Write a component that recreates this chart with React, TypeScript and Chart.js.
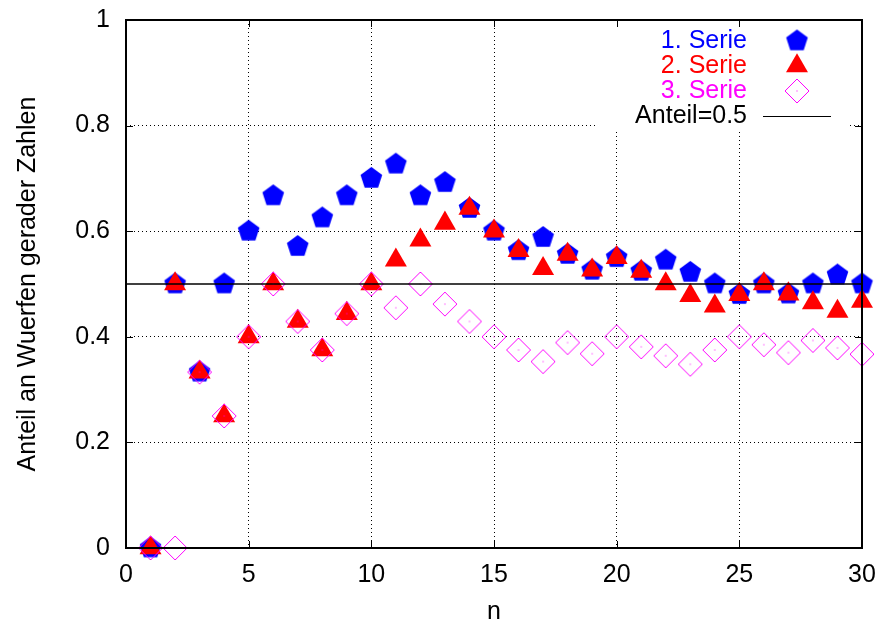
import { useEffect, useRef } from "react";
import { Chart, registerables } from "chart.js";

Chart.register(...registerables);

// ---- data ----
const nValues = [1, 2, 3, 4, 5, 6, 7, 8, 9, 10, 11, 12, 13, 14, 15, 16, 17, 18, 19, 20, 21, 22, 23, 24, 25, 26, 27, 28, 29, 30];
const series1 = [0, 0.5, 0.333, 0.5, 0.6, 0.667, 0.571, 0.625, 0.667, 0.7, 0.727, 0.667, 0.692, 0.643, 0.6, 0.563, 0.588, 0.556, 0.526, 0.55, 0.524, 0.545, 0.522, 0.5, 0.48, 0.5, 0.481, 0.5, 0.517, 0.5];
const series2 = [0, 0.5, 0.333, 0.25, 0.4, 0.5, 0.429, 0.375, 0.444, 0.5, 0.545, 0.583, 0.615, 0.643, 0.6, 0.563, 0.529, 0.556, 0.526, 0.55, 0.524, 0.5, 0.478, 0.458, 0.48, 0.5, 0.481, 0.464, 0.448, 0.467];
const series3 = [0, 0, 0.333, 0.25, 0.4, 0.5, 0.429, 0.375, 0.444, 0.5, 0.455, 0.5, 0.462, 0.429, 0.4, 0.375, 0.353, 0.389, 0.368, 0.4, 0.381, 0.364, 0.348, 0.375, 0.4, 0.385, 0.37, 0.393, 0.379, 0.367];
const referenceValue = 0.5;
const referenceSpan = [0, 30];
const seriesNames = ["1. Serie", "2. Serie", "3. Serie", "Anteil=0.5"];
const xTickLabels = ["0", "5", "10", "15", "20", "25", "30"];
const yTickLabels = ["0", "0.2", "0.4", "0.6", "0.8", "1"];
const xTickValues = [0, 5, 10, 15, 20, 25, 30];
const yTickValues = [0, 0.2, 0.4, 0.6, 0.8, 1];
const xTitle = "n";
const yTitle = "Anteil an Wuerfen gerader Zahlen";

// ---- styles ----
const BLUE = "#0000ff";
const RED = "#ff0000";
const MAGENTA = "#ff00ff";
const FONT_FAMILY = '"Liberation Sans", Arial, Helvetica, sans-serif';
const FONT_SIZE = 25;
const PENT_R = 11.4;
const TRI_R = 12.7;
const DIA_R = 12;

function makePentagon(R: number, color: string): HTMLCanvasElement {
  const size = Math.ceil(2 * R) + 2;
  const c = document.createElement("canvas");
  c.width = size;
  c.height = size;
  const ctx = c.getContext("2d")!;
  const cx = size / 2;
  const cy = size / 2;
  ctx.beginPath();
  for (let k = 0; k < 5; k++) {
    const a = -Math.PI / 2 + (k * 2 * Math.PI) / 5;
    const px = cx + R * Math.cos(a);
    const py = cy + R * Math.sin(a);
    if (k === 0) ctx.moveTo(px, py);
    else ctx.lineTo(px, py);
  }
  ctx.closePath();
  ctx.fillStyle = color;
  ctx.fill();
  return c;
}

function makeDiamond(R: number, color: string): HTMLCanvasElement {
  const size = Math.ceil(2 * R) + 2;
  const c = document.createElement("canvas");
  c.width = size;
  c.height = size;
  const ctx = c.getContext("2d")!;
  const cx = size / 2;
  const cy = size / 2;
  ctx.beginPath();
  ctx.moveTo(cx, cy - R);
  ctx.lineTo(cx + R, cy);
  ctx.lineTo(cx, cy + R);
  ctx.lineTo(cx - R, cy);
  ctx.closePath();
  ctx.strokeStyle = color;
  ctx.lineWidth = 1;
  ctx.stroke();
  ctx.fillStyle = color;
  ctx.fillRect(cx - 0.5, cy - 0.5, 1, 1);
  return c;
}

function drawTriangle(ctx: CanvasRenderingContext2D, x: number, y: number, r: number, color: string) {
  ctx.beginPath();
  for (let k = 0; k < 3; k++) {
    const a = (k * 2 * Math.PI) / 3;
    const px = x + Math.sin(a) * r;
    const py = y - Math.cos(a) * r;
    if (k === 0) ctx.moveTo(px, py);
    else ctx.lineTo(px, py);
  }
  ctx.closePath();
  ctx.fillStyle = color;
  ctx.fill();
}

export default function App() {
  const canvasRef = useRef<HTMLCanvasElement | null>(null);

  useEffect(() => {
    const canvas = canvasRef.current;
    if (!canvas) return;
    const pentagon = makePentagon(PENT_R, BLUE);
    const diamond = makeDiamond(DIA_R, MAGENTA);

    const framePlugin = {
      id: "gnuplotFrame",
      beforeDatasetsDraw(chart: any) {
        const { ctx, chartArea } = chart;
        const { top, right } = chartArea;
        ctx.save();
        // key box (opaque)
        ctx.fillStyle = "#ffffff";
        ctx.fillRect(right - 265, top + 1, 250, 108);
        ctx.font = `${FONT_SIZE}px ${FONT_FAMILY}`;
        ctx.textAlign = "right";
        ctx.textBaseline = "middle";
        const textX = right - 115;
        const symX = right - 65;
        const colors = [BLUE, RED, MAGENTA, "#000000"];
        seriesNames.forEach((name, i) => {
          const cy = top + 21 + 25 * i;
          ctx.fillStyle = colors[i];
          ctx.fillText(name, textX, cy);
          if (i === 0) {
            ctx.drawImage(pentagon, symX - pentagon.width / 2, cy - pentagon.height / 2);
          } else if (i === 1) {
            drawTriangle(ctx, symX, cy, TRI_R, RED);
          } else if (i === 2) {
            ctx.drawImage(diamond, symX - diamond.width / 2, cy - diamond.height / 2);
          } else {
            ctx.strokeStyle = "#000000";
            ctx.lineWidth = 1;
            ctx.beginPath();
            ctx.moveTo(right - 99, Math.round(cy) + 0.5);
            ctx.lineTo(right - 31, Math.round(cy) + 0.5);
            ctx.stroke();
          }
        });
        ctx.restore();
      },
      afterDraw(chart: any) {
        const { ctx, chartArea, scales } = chart;
        const { left, right, top, bottom } = chartArea;
        ctx.save();
        ctx.strokeStyle = "#000000";
        ctx.lineWidth = 1;
        const tl = 7;
        ctx.beginPath();
        xTickValues.forEach((v) => {
          const px = Math.round(scales.x.getPixelForValue(v)) + 0.5;
          ctx.moveTo(px, bottom);
          ctx.lineTo(px, bottom - tl);
          ctx.moveTo(px, top);
          ctx.lineTo(px, top + tl);
        });
        yTickValues.forEach((v) => {
          const py = Math.round(scales.y.getPixelForValue(v)) + 0.5;
          ctx.moveTo(left, py);
          ctx.lineTo(left + tl, py);
          ctx.moveTo(right, py);
          ctx.lineTo(right - tl, py);
        });
        ctx.stroke();
        ctx.lineWidth = 2;
        ctx.strokeRect(left, top, right - left, bottom - top);
        ctx.restore();
      },
    };

    const pts = (ys: number[]) => nValues.map((n, i) => ({ x: n, y: ys[i] }));

    const chart = new Chart(canvas, {
      type: "scatter",
      data: {
        datasets: [
          {
            label: seriesNames[0],
            data: pts(series1),
            pointStyle: pentagon as any,
            pointRadius: PENT_R,
            backgroundColor: BLUE,
            borderColor: BLUE,
            showLine: false,
            clip: false as any,
            order: 4,
          },
          {
            label: seriesNames[1],
            data: pts(series2),
            pointStyle: "triangle",
            pointRadius: TRI_R,
            pointBorderWidth: 0,
            backgroundColor: RED,
            borderColor: RED,
            showLine: false,
            clip: false as any,
            order: 3,
          },
          {
            label: seriesNames[2],
            data: pts(series3),
            pointStyle: diamond as any,
            pointRadius: DIA_R,
            backgroundColor: MAGENTA,
            borderColor: MAGENTA,
            showLine: false,
            clip: false as any,
            order: 2,
          },
          {
            label: seriesNames[3],
            data: referenceSpan.map((x) => ({ x, y: referenceValue })),
            showLine: true,
            borderColor: "#000000",
            borderWidth: 1.5,
            pointRadius: 0,
            order: 1,
          } as any,
        ],
      },
      options: {
        responsive: false,
        animation: false,
        devicePixelRatio: 1,
        layout: { padding: { left: 0, top: 20, right: 20, bottom: 0 } },
        plugins: {
          legend: { display: false },
          tooltip: { enabled: false },
        },
        scales: {
          x: {
            type: "linear",
            position: "bottom",
            min: 0,
            max: 30,
            afterFit: (scale: any) => {
              scale.height = 75;
            },
            grid: { color: "#000000", lineWidth: 1, drawTicks: true, tickLength: 12, tickColor: "rgba(0,0,0,0)" },
            border: { display: false, dash: [1, 3] },
            ticks: {
              stepSize: 5,
              padding: 0,
              maxRotation: 0,
              autoSkip: false,
              color: "#000000",
              font: { family: FONT_FAMILY, size: FONT_SIZE },
              callback: (_v: any, i: number) => xTickLabels[i],
            },
            title: {
              display: true,
              text: xTitle,
              color: "#000000",
              font: { family: FONT_FAMILY, size: FONT_SIZE },
              padding: { top: 0, bottom: -4 },
            },
          },
          y: {
            type: "linear",
            position: "left",
            min: 0,
            max: 1,
            afterFit: (scale: any) => {
              scale.width = 126;
            },
            grid: { color: "#000000", lineWidth: 1, drawTicks: true, tickLength: 16, tickColor: "rgba(0,0,0,0)" },
            border: { display: false, dash: [1, 3] },
            ticks: {
              stepSize: 0.2,
              padding: 0,
              color: "#000000",
              font: { family: FONT_FAMILY, size: FONT_SIZE },
              callback: (_v: any, i: number) => yTickLabels[i],
            },
            title: {
              display: true,
              text: yTitle,
              color: "#000000",
              font: { family: FONT_FAMILY, size: FONT_SIZE },
              padding: { top: 13, bottom: 0 },
            },
          },
        },
      } as any,
      plugins: [framePlugin],
    });

    return () => {
      chart.destroy();
    };
  }, []);

  return (
    <div style={{ position: "fixed", left: 0, top: 0, width: 882, height: 623, background: "#ffffff" }}>
      <canvas ref={canvasRef} width={882} height={623} style={{ display: "block", width: 882, height: 623 }} />
    </div>
  );
}
